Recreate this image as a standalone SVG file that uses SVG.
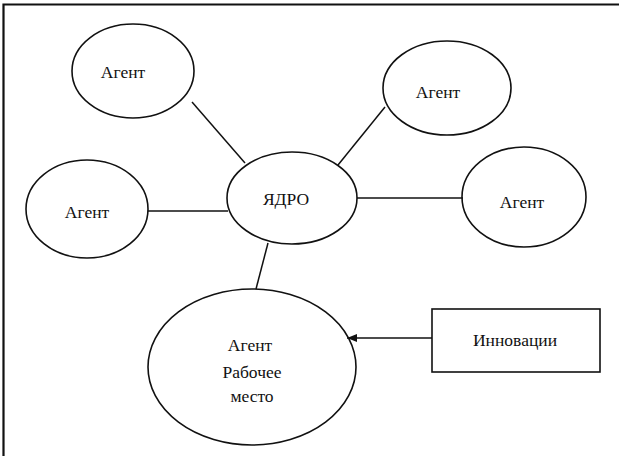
<svg xmlns="http://www.w3.org/2000/svg" width="619" height="456" viewBox="0 0 619 456">
<style>
.n{fill:none;stroke:#111;stroke-width:1.6}
.c{stroke:#111;stroke-width:1.5;fill:none}
text{font-family:"Liberation Serif","Times New Roman",serif;font-size:17.5px;fill:#111;text-anchor:middle;dominant-baseline:central}
</style>
<defs>
<marker id="ah" viewBox="0 0 10 8" refX="10" refY="4" markerWidth="10" markerHeight="8" markerUnits="userSpaceOnUse" orient="auto">
<path d="M0,0 L10,4 L0,8 Z" fill="#111"/>
</marker>
</defs>
<rect width="619" height="456" fill="#fff"/>
<path d="M3.5,460 V4.5 H619" fill="none" stroke="#111" stroke-width="2.2"/>
<g id="connectors">
<line class="c" x1="192" y1="102" x2="245" y2="163"/>
<line class="c" x1="338" y1="165" x2="385" y2="107"/>
<line class="c" x1="148" y1="211" x2="228" y2="211"/>
<line class="c" x1="357" y1="198" x2="463" y2="198"/>
<line class="c" x1="268" y1="243" x2="256" y2="289"/>
<line class="c" x1="432" y1="338" x2="347" y2="338" marker-end="url(#ah)"/>
</g>
<g id="core"><ellipse class="n" cx="292" cy="198" rx="65" ry="46"/><text x="286" y="199">ЯДРО</text></g>
<g id="agent-top-left"><ellipse class="n" cx="133" cy="71" rx="61" ry="47"/><text x="123" y="72">Агент</text></g>
<g id="agent-top-right"><ellipse class="n" cx="447" cy="88" rx="64" ry="47"/><text x="438" y="92">Агент</text></g>
<g id="agent-left"><ellipse class="n" cx="87" cy="209" rx="61" ry="49"/><text x="87" y="212">Агент</text></g>
<g id="agent-right"><ellipse class="n" cx="524" cy="197" rx="62" ry="50"/><text x="522" y="202">Агент</text></g>
<g id="agent-workplace"><ellipse class="n" cx="252" cy="367" rx="104" ry="78"/>
<text x="250" y="345">Агент</text><text x="252" y="372">Рабочее</text><text x="252" y="396">место</text></g>
<g id="innovations"><rect class="n" x="432" y="309" width="168" height="63"/><text x="515" y="340">Инновации</text></g>
</svg>
